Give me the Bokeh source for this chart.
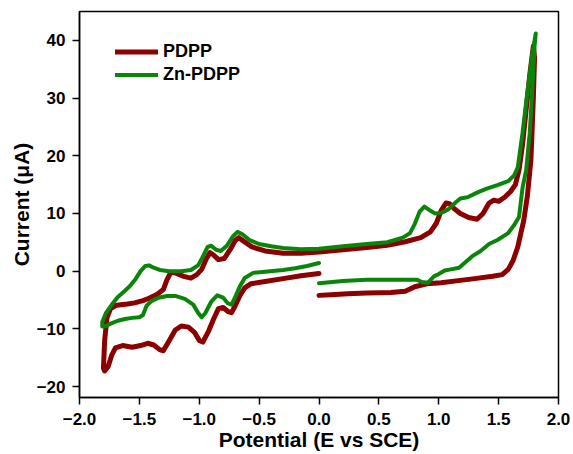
from bokeh.plotting import figure
from bokeh.models import Range1d, FixedTicker, Legend, LegendItem
from bokeh.embed import file_html
from bokeh.resources import INLINE

# PDPP: scan from 0 V negative, back through 0 to +1.8 V, then back to 0 V
pdpp_v = [0.0, -0.15, -0.3, -0.45, -0.57, -0.62, -0.66, -0.70, -0.73, -0.76, -0.80, -0.84,
          -0.88, -0.92, -0.97, -1.00, -1.04, -1.09, -1.15, -1.20, -1.25, -1.30, -1.33, -1.38,
          -1.43, -1.49, -1.56, -1.64, -1.70, -1.73, -1.76, -1.79,
          -1.80, -1.79, -1.77, -1.74, -1.69, -1.60, -1.54, -1.47, -1.42, -1.35, -1.30, -1.27,
          -1.24, -1.20, -1.13, -1.07, -1.02, -0.98, -0.94, -0.91, -0.88, -0.84, -0.79, -0.74,
          -0.70, -0.67, -0.63, -0.56, -0.45, -0.3, -0.15, 0.0, 0.2, 0.4, 0.57, 0.72, 0.85,
          0.93, 0.98, 1.02, 1.06, 1.09, 1.13, 1.18, 1.25, 1.32, 1.37, 1.42, 1.46, 1.50, 1.55,
          1.60, 1.64, 1.67, 1.70, 1.73, 1.76, 1.79,
          1.80, 1.79, 1.77, 1.74, 1.71, 1.66, 1.62, 1.58, 1.53, 1.45, 1.3, 1.18, 1.02, 0.9,
          0.8, 0.72, 0.6, 0.4, 0.24, 0.1, 0.0]
pdpp_i = [-0.4, -0.8, -1.3, -1.8, -2.2, -2.9, -4.2, -6.0, -7.2, -7.0, -6.3, -6.5,
          -8.3, -10.3, -12.3, -12.0, -10.6, -9.7, -9.5, -10.2, -12.0, -13.8, -13.6, -12.8,
          -12.5, -12.9, -13.2, -12.9, -13.3, -14.5, -16.5, -17.3,
          -16.8, -12.0, -8.0, -6.5, -5.9, -5.7, -5.5, -5.1, -4.7, -4.0, -3.2, -1.5,
          -0.3, -0.3, -0.9, -1.2, -0.6, 0.3, 2.2, 3.2, 2.8, 2.0, 2.2, 3.8,
          5.3, 5.8, 5.2, 4.2, 3.5, 3.1, 3.1, 3.3, 3.7, 4.1, 4.5, 5.1, 5.8,
          6.8, 8.3, 10.5, 11.8, 11.7, 10.8, 10.0, 9.3, 9.0, 10.0, 11.8, 12.3, 12.1, 12.8,
          13.8, 15.0, 17.5, 22.0, 28.0, 34.0, 39.0,
          37.0, 30.0, 19.4, 13.0, 8.8, 4.2, 1.8, 0.3, -0.6, -0.9, -1.3, -1.6, -2.0, -2.2,
          -2.7, -3.5, -3.7, -3.8, -3.9, -4.1, -4.2]

# Zn-PDPP
zn_v = [0.0, -0.1, -0.2, -0.3, -0.45, -0.55, -0.62, -0.66, -0.70, -0.73, -0.76, -0.80,
        -0.85, -0.90, -0.95, -0.98, -1.01, -1.05, -1.12, -1.20, -1.27, -1.34, -1.40, -1.44,
        -1.47, -1.50, -1.56, -1.62, -1.68, -1.74, -1.79, -1.81,
        -1.81, -1.78, -1.73, -1.68, -1.62, -1.58, -1.53, -1.49, -1.45, -1.42, -1.38, -1.33,
        -1.25, -1.15, -1.07, -1.01, -0.97, -0.93, -0.90, -0.86, -0.82, -0.77, -0.72, -0.68,
        -0.64, -0.58, -0.5, -0.4, -0.3, -0.15, 0.0, 0.2, 0.4, 0.57, 0.70, 0.76, 0.80, 0.84,
        0.88, 0.92, 0.97, 1.02, 1.08, 1.14, 1.18, 1.24, 1.32, 1.40, 1.49, 1.58, 1.63, 1.66,
        1.70, 1.74, 1.78, 1.81,
        1.80, 1.78, 1.76, 1.73, 1.70, 1.67, 1.63, 1.58, 1.49, 1.42, 1.35, 1.28, 1.22, 1.17,
        1.10, 1.05, 1.00, 0.96, 0.91, 0.86, 0.82, 0.6, 0.4, 0.2, 0.0]
zn_i = [1.4, 0.9, 0.5, 0.2, -0.1, -0.3, -1.2, -2.6, -4.5, -5.8, -5.6, -4.6,
        -4.2, -5.3, -7.3, -8.0, -7.2, -5.8, -4.8, -4.3, -4.3, -4.6, -5.2, -6.0,
        -7.6, -8.0, -8.1, -8.3, -8.6, -9.1, -9.6, -9.6,
        -8.8, -7.3, -5.8, -4.5, -3.4, -2.6, -1.3, 0.0, 0.9, 1.0, 0.6, 0.2,
        0.0, 0.0, 0.2, 1.0, 2.5, 4.2, 4.4, 3.7, 3.5, 4.4, 6.0, 6.8,
        6.4, 5.4, 4.7, 4.3, 4.0, 3.8, 3.9, 4.3, 4.7, 5.0, 5.8, 6.6, 8.2, 10.3,
        11.2, 10.6, 10.0, 10.1, 10.7, 11.9, 12.6, 12.8, 13.6, 14.3, 14.9, 15.6, 16.6, 18.0,
        24.0, 31.0, 37.5, 41.2,
        39.0, 31.0, 24.0, 17.5, 14.5, 9.4, 8.0, 6.6, 5.4, 4.7, 3.5, 2.6, 1.5, 0.6,
        0.3, 0.1, -0.5, -0.9, -2.0, -1.9, -1.5, -1.5, -1.5, -1.7, -2.1]

x_ticks = [-2.0, -1.5, -1.0, -0.5, 0.0, 0.5, 1.0, 1.5, 2.0]
x_tick_labels = ["\u22122.0", "\u22121.5", "\u22121.0", "\u22120.5", "0.0", "0.5", "1.0", "1.5", "2.0"]
y_ticks = [-20, -10, 0, 10, 20, 30, 40]
y_tick_labels = ["\u221220", "\u221210", "0", "10", "20", "30", "40"]
x_title = "Potential (E vs SCE)"
y_title = "Current (\u03bcA)"

series_names = ["PDPP", "Zn-PDPP"]
series_colors = ["#8B0000", "#0A850A"]

FONT = "Liberation Sans"

p = figure(width=573, height=454, output_backend="svg", toolbar_location=None,
           x_range=Range1d(-2.0, 2.0), y_range=Range1d(-21.9, 45.0),
           min_border_left=79, min_border_right=15, min_border_top=11, min_border_bottom=57)
p.background_fill_color = "white"
p.border_fill_color = "white"
p.outline_line_color = "black"
p.outline_line_width = 1.5
p.xgrid.visible = False
p.ygrid.visible = False

r1 = p.line(pdpp_v, pdpp_i, line_color=series_colors[0], line_width=5, line_join="round", line_cap="round")
r2 = p.line(zn_v, zn_i, line_color=series_colors[1], line_width=4, line_join="round", line_cap="round")

for ax, ticks, labels in ((p.xaxis[0], x_ticks, x_tick_labels), (p.yaxis[0], y_ticks, y_tick_labels)):
    ax.ticker = FixedTicker(ticks=ticks, minor_ticks=[])
    ax.major_label_overrides = {t: l for t, l in zip(ticks, labels)}
    ax.major_label_text_font = FONT
    ax.major_label_text_font_style = "bold"
    ax.major_label_text_font_size = "17px"
    ax.major_label_text_color = "black"
    ax.axis_label_text_font = FONT
    ax.axis_label_text_font_style = "bold"
    ax.axis_label_text_font_size = "21px"
    ax.axis_label_text_color = "black"
    ax.axis_line_width = 1.5
    ax.axis_line_color = "black"
    ax.major_tick_line_width = 1.5
    ax.major_tick_line_color = "black"
    ax.major_tick_in = 0
    ax.major_tick_out = 7
    ax.minor_tick_line_color = None

p.xaxis.axis_label = x_title
p.yaxis.axis_label = y_title
p.xaxis.major_label_standoff = 8
p.xaxis.axis_label_standoff = 0
p.yaxis.major_label_standoff = 7
p.yaxis.axis_label_standoff = 1

legend = Legend(items=[LegendItem(label=series_names[0], renderers=[r1]),
                       LegendItem(label=series_names[1], renderers=[r2])],
                location=(36, 311), orientation="vertical")
legend.border_line_color = None
legend.background_fill_alpha = 0
legend.padding = 0
legend.margin = 0
legend.spacing = 0
legend.glyph_width = 43
legend.glyph_height = 23
legend.label_height = 23
legend.label_standoff = 5
legend.label_text_font = FONT
legend.label_text_font_style = "bold"
legend.label_text_font_size = "18px"
legend.label_text_color = "black"
p.add_layout(legend)

open("out.html", "w").write(file_html(p, INLINE))
